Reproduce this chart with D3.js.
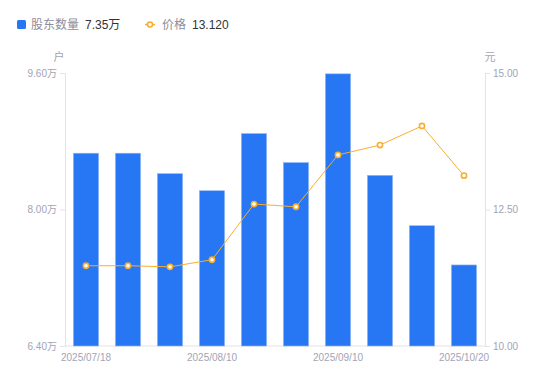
<!DOCTYPE html>
<html><head><meta charset="utf-8">
<script src="https://cdn.jsdelivr.net/npm/d3@7"></script>
<style>
html,body{margin:0;padding:0;background:#fff;}
svg{display:block;font-family:"Liberation Sans","Noto Sans CJK SC",sans-serif;}
</style></head>
<body><svg id="c" width="550" height="381"></svg>
<script>
const categories = ["2025/07/18","2025/07/25","2025/07/31","2025/08/10","2025/08/20","2025/08/31","2025/09/10","2025/09/19","2025/09/30","2025/10/20"];
const holders = [8.66, 8.66, 8.42, 8.22, 8.89, 8.55, 9.59, 8.40, 7.81, 7.35];
const prices = [11.47, 11.47, 11.45, 11.58, 12.60, 12.55, 13.50, 13.68, 14.03, 13.12];
const leftTicks = [6.40, 8.00, 9.60];
const rightTicks = [10.00, 12.50, 15.00];
const xTickLabels = ["2025/07/18","2025/08/10","2025/09/10","2025/10/20"];

const svg = d3.select("#c");
const m = {l:65, r:485, t:73, b:346};
const x = d3.scaleBand().domain(categories).range([m.l, m.r]).paddingInner(0.4).paddingOuter(0.2);
const yL = d3.scaleLinear().domain([6.4, 9.6]).range([m.b, m.t]);
const yR = d3.scaleLinear().domain([10, 15]).range([m.b, m.t]);
const axisColor = "#e3e3e8", labelColor = "#a3a3b5";
const blue = "#2776F3", orange = "#F9AE2E";
const font = '"Liberation Sans","Noto Sans CJK SC",sans-serif';

// axes
const gL = svg.append("g").attr("transform",`translate(${m.l},0)`)
  .call(d3.axisLeft(yL).tickValues(leftTicks).tickSize(5).tickPadding(3).tickFormat(d=>d3.format(".2f")(d)+"万"));
const gR = svg.append("g").attr("transform",`translate(${m.r},0)`)
  .call(d3.axisRight(yR).tickValues(rightTicks).tickSize(5).tickPadding(3).tickFormat(d3.format(".2f")));
const gX = svg.append("g").attr("transform",`translate(0,${m.b})`)
  .call(d3.axisBottom(x).tickValues(xTickLabels).tickSize(0).tickPadding(8));
[gL,gR,gX].forEach(g=>{
  g.selectAll(".domain").attr("stroke",axisColor);
  g.selectAll(".tick line").attr("stroke",axisColor);
  g.selectAll("text").attr("fill",labelColor).style("font-family",font).style("font-size","10px");
});
gX.select(".domain").attr("d",`M${m.l},0H${m.r}`);

// units
svg.append("text").attr("x",59).attr("y",61).attr("text-anchor","middle").attr("fill",labelColor).style("font-size","11px").text("户");
svg.append("text").attr("x",490).attr("y",61).attr("text-anchor","middle").attr("fill",labelColor).style("font-size","11px").text("元");

// bars
svg.append("g").selectAll("rect").data(categories).join("rect")
  .attr("x",d=>x(d)).attr("width",x.bandwidth())
  .attr("y",(d,i)=>yL(holders[i])).attr("height",(d,i)=>m.b-yL(holders[i]))
  .attr("fill",blue).attr("stroke","#8fb6f7").attr("stroke-width",0.6);

// line
const line = d3.line().x((d,i)=>x(categories[i])+x.bandwidth()/2).y(d=>yR(d));
svg.append("path").datum(prices).attr("d",line).attr("fill","none").attr("stroke",orange).attr("stroke-width",1);
svg.append("g").selectAll("circle").data(prices).join("circle")
  .attr("cx",(d,i)=>x(categories[i])+x.bandwidth()/2).attr("cy",d=>yR(d)).attr("r",2.6)
  .attr("fill","#fff").attr("stroke",orange).attr("stroke-width",1.6);

// legend
const lg = svg.append("g").style("font-size","12px");
lg.append("rect").attr("x",17).attr("y",20).attr("width",9).attr("height",9).attr("rx",1.5).attr("fill",blue);
lg.append("text").attr("x",31).attr("y",29).attr("fill","#8d8d9c").style("font-family",'"Noto Sans CJK SC",sans-serif').text("股东数量");
lg.append("text").attr("x",85).attr("y",29).attr("fill","#333").style("font-family",font).text("7.35万");
lg.append("line").attr("x1",145).attr("x2",155).attr("y1",24.5).attr("y2",24.5).attr("stroke",orange).attr("stroke-width",1.5);
lg.append("circle").attr("cx",150).attr("cy",24.5).attr("r",2.5).attr("fill","#fff").attr("stroke",orange).attr("stroke-width",1.6);
lg.append("text").attr("x",162).attr("y",29).attr("fill","#8d8d9c").style("font-family",'"Noto Sans CJK SC",sans-serif').text("价格");
lg.append("text").attr("x",192).attr("y",29).attr("fill","#333").style("font-family",font).text("13.120");
</script></body></html>
